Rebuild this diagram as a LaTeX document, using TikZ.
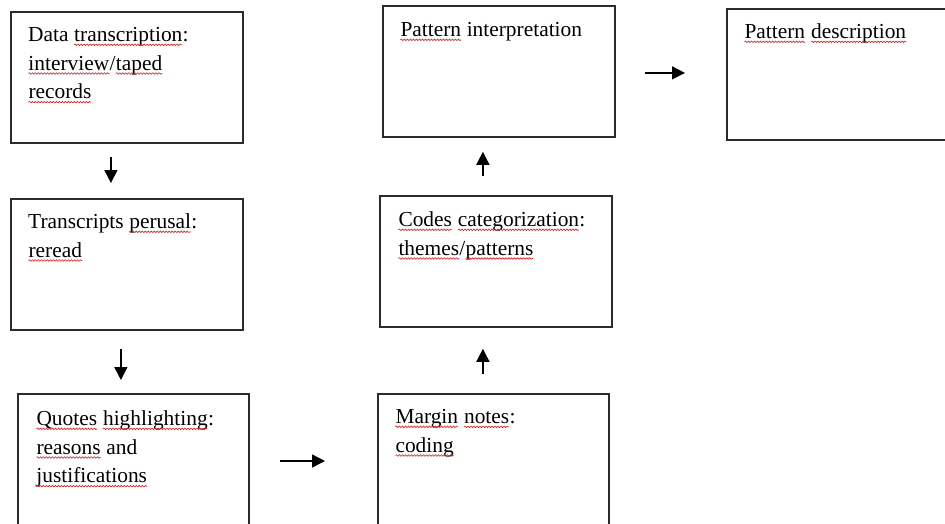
\documentclass[tikz,border=0pt]{standalone}
\usepackage{fontspec}
\setmainfont{Liberation Serif}
\usepackage{xcolor}
\usetikzlibrary{arrows.meta,calc,decorations.pathmorphing}
\definecolor{StageLine}{HTML}{2B2B2B}
\definecolor{SpellRed}{HTML}{E01B1B}
\newcommand{\spellmark}[1]{\tikz[baseline=(w.base)]{%
  \node[inner sep=0pt,outer sep=0pt,anchor=base,execute at begin node={}] (w) {#1};
  \draw[SpellRed,line width=0.6pt,decorate,decoration={snake,amplitude=0.8pt,segment length=3pt}]
    ([yshift=-3.5pt]w.base west) -- ([yshift=-3.5pt]w.base east);}}
\tikzset{
  stagebox/.style={draw=StageLine,line width=1.8pt,anchor=north west,inner sep=0pt,
    minimum width=232pt,minimum height=131pt},
  stagetext/.style={anchor=north west,inner sep=0pt,align=left,
    font=\fontsize{21.4}{28.7}\selectfont,execute at begin node={\rule{0pt}{20.1pt}}},
  flow/.style={line width=1.5pt,-{Triangle[length=13pt,width=13pt]}}
}
\begin{document}
\begin{tikzpicture}[x=1pt,y=-1pt]
        \useasboundingbox (0,0) rectangle (945,523);
        \clip (0,0) rectangle (945,523);
        \fill[white] (0,0) rectangle (945,523);

        % left column
        \node[stagebox] (trans) at (10,11) {};
        \node[stagebox] (perusal) at (10,198) {};
        \node[stagebox,minimum width=231pt,minimum height=167pt] (quotes) at (17,393) {};

        % middle column
        \node[stagebox,minimum width=231pt,minimum height=167pt] (margin) at (377,393) {};
        \node[stagebox] (codes) at (379,195) {};
        \node[stagebox] (interp) at (382,5) {};

        % right column
        \node[stagebox] (desc) at (726,8) {};

        \node[stagetext] (transtxt) at ($(trans.north west)+(18,10)$)
          {Data \spellmark{transcription}:\\\spellmark{interview}/\spellmark{taped}\\\spellmark{records}};
        \node[stagetext] (perusaltxt) at ($(perusal.north west)+(18,10)$)
          {Transcripts \spellmark{perusal}:\\\spellmark{reread}};
        \node[stagetext] (quotestxt) at ($(quotes.north west)+(19,12)$)
          {\spellmark{Quotes} \spellmark{highlighting}:\\\spellmark{reasons} and\\\spellmark{justifications}};
        \node[stagetext] (margintxt) at ($(margin.north west)+(18,10)$)
          {\spellmark{Margin} \spellmark{notes}:\\\spellmark{coding}};
        \node[stagetext] (codestxt) at ($(codes.north west)+(19,11)$)
          {\spellmark{Codes} \spellmark{categorization}:\\\spellmark{themes}/\spellmark{patterns}};
        \node[stagetext] (interptxt) at ($(interp.north west)+(18,11)$)
          {\spellmark{Pattern} interpretation};
        \node[stagetext] (desctxt) at ($(desc.north west)+(18,10)$)
          {\spellmark{Pattern} \spellmark{description}};

        \draw[flow] ($(trans.south)+(-16,13)$) -- ($(perusal.north)+(-16,-15)$);
        \draw[flow] ($(perusal.south)+(-6,18)$) -- ($(quotes.north)+(-12.5,-13)$);
        \draw[flow] ($(quotes.north east)+(30,68)$) -- ($(margin.north west)+(-52,68)$);
        \draw[flow] ($(margin.north)+(-10.5,-19)$) -- ($(codes.south)+(-13,21)$);
        \draw[flow] ($(codes.north)+(-13,-19)$) -- ($(interp.south)+(-16,14)$);
        \draw[flow] ($(interp.east)+(29,1.5)$) -- ($(desc.west)+(-41,-1.5)$);
      \end{tikzpicture}
\end{document}
